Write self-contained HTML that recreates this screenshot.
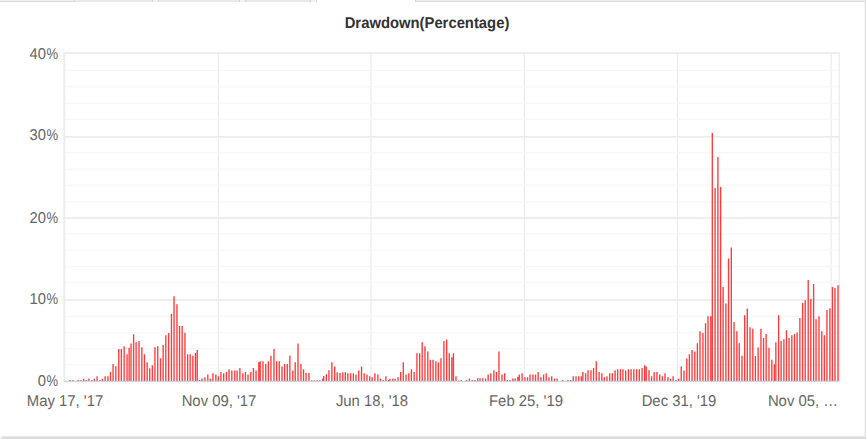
<!DOCTYPE html>
<html><head><meta charset="utf-8"><title>Drawdown</title>
<style>
html,body{margin:0;padding:0;background:#fff;}
body{width:866px;height:439px;position:relative;overflow:hidden;font-family:"Liberation Sans",sans-serif;}
.t{position:absolute;white-space:nowrap;line-height:1;text-rendering:geometricPrecision;}
.yl{font-size:15.6px;color:#666;text-align:right;width:60px;left:-2.4px;transform:scaleX(0.946);transform-origin:100% 50%;}
.xl{font-size:15.6px;color:#666;text-align:center;width:120px;transform:scaleX(0.953);transform-origin:50% 50%;}
.title{font-size:15.6px;font-weight:bold;color:#333;text-align:center;width:300px;left:276.9px;top:15.65px;transform:scaleX(0.95);transform-origin:50% 50%;}
.g{position:absolute;background:#e6e6e6;}
</style></head><body>
<div class="g" style="left:0px;top:0px;width:316px;height:2px;background:#e9e9e9;"></div>
<div class="g" style="left:0px;top:0px;width:74px;height:1px;background:#f0f0f0;"></div>
<div class="g" style="left:0px;top:1px;width:75px;height:1px;background:#d9d9d9;"></div>
<div class="g" style="left:152px;top:0px;width:7px;height:2px;background:#f2f2f2;"></div>
<div class="g" style="left:152px;top:0px;width:1px;height:2px;background:#d6d6d6;"></div>
<div class="g" style="left:158px;top:0px;width:1px;height:2px;background:#d6d6d6;"></div>
<div class="g" style="left:239px;top:0px;width:7px;height:2px;background:#f2f2f2;"></div>
<div class="g" style="left:239px;top:0px;width:1px;height:2px;background:#d6d6d6;"></div>
<div class="g" style="left:245px;top:0px;width:1px;height:2px;background:#d6d6d6;"></div>
<div class="g" style="left:310px;top:0px;width:7px;height:2px;background:#f2f2f2;"></div>
<div class="g" style="left:310px;top:0px;width:1px;height:2px;background:#d6d6d6;"></div>
<div class="g" style="left:316px;top:0px;width:1px;height:2px;background:#d6d6d6;"></div>
<div class="g" style="left:74px;top:0px;width:1px;height:2px;background:#d6d6d6;"></div>
<div class="g" style="left:415px;top:0px;width:451px;height:1px;background:#ececec;"></div>
<div class="g" style="left:415px;top:1px;width:451px;height:1px;background:#dddddd;"></div>
<div class="g" style="left:415px;top:0px;width:1px;height:2px;background:#d4d4d4;"></div>
<div class="g" style="left:865px;top:0px;width:1px;height:439px;background:#e0e0e0;"></div>
<div class="g" style="left:864px;top:2px;width:1px;height:434px;background:#f6f6f6;"></div>
<div class="g" style="left:0px;top:436px;width:866px;height:1px;background:#e8e8e8;border-top-left-radius:2px"></div>
<div class="g" style="left:0px;top:437px;width:866px;height:2px;background:#dcdcdc;"></div>
<div class="g" style="left:0px;top:436px;width:2px;height:3px;background:#f0f0f0;"></div>
<svg width="866" height="439" viewBox="0 0 866 439" style="position:absolute;left:0;top:0">
<rect x="217.65" y="53" width="1.3" height="328" fill="#ededed"/>
<rect x="370.35" y="53" width="1.3" height="328" fill="#ededed"/>
<rect x="523.65" y="53" width="1.3" height="328" fill="#ededed"/>
<rect x="676.75" y="53" width="1.3" height="328" fill="#ededed"/>
<rect x="830.45" y="53" width="1.3" height="328" fill="#ededed"/>
<rect x="64.3" y="69.80" width="775.0" height="1.2" fill="#f7f7f7"/>
<rect x="64.3" y="86.20" width="775.0" height="1.2" fill="#f7f7f7"/>
<rect x="64.3" y="102.60" width="775.0" height="1.2" fill="#f7f7f7"/>
<rect x="64.3" y="118.60" width="775.0" height="1.2" fill="#f7f7f7"/>
<rect x="64.3" y="152.20" width="775.0" height="1.2" fill="#f7f7f7"/>
<rect x="64.3" y="168.60" width="775.0" height="1.2" fill="#f7f7f7"/>
<rect x="64.3" y="184.60" width="775.0" height="1.2" fill="#f7f7f7"/>
<rect x="64.3" y="201.40" width="775.0" height="1.2" fill="#f7f7f7"/>
<rect x="64.3" y="233.10" width="775.0" height="1.2" fill="#f7f7f7"/>
<rect x="64.3" y="249.60" width="775.0" height="1.2" fill="#f7f7f7"/>
<rect x="64.3" y="266.00" width="775.0" height="1.2" fill="#f7f7f7"/>
<rect x="64.3" y="281.70" width="775.0" height="1.2" fill="#f7f7f7"/>
<rect x="64.3" y="315.60" width="775.0" height="1.2" fill="#f7f7f7"/>
<rect x="64.3" y="332.00" width="775.0" height="1.2" fill="#f7f7f7"/>
<rect x="64.3" y="348.10" width="775.0" height="1.2" fill="#f7f7f7"/>
<rect x="64.3" y="364.20" width="775.0" height="1.2" fill="#f7f7f7"/>
<rect x="64.3" y="52.20" width="775.0" height="1.8" fill="#ededed"/>
<rect x="64.3" y="135.95" width="775.0" height="1.8" fill="#ededed"/>
<rect x="64.3" y="217.10" width="775.0" height="1.8" fill="#ededed"/>
<rect x="64.3" y="299.00" width="775.0" height="1.8" fill="#ededed"/>
<rect x="63.30" y="52.2" width="2.0" height="329.5" fill="#ededed"/>
<rect x="838.60" y="52.2" width="1.4" height="329.5" fill="#ededed"/>
<path d="M69.18 380.10h1.35V381.5h-1.35zM72.23 380.10h1.35V381.5h-1.35zM77.49 380.10h1.35V381.5h-1.35zM80.26 380.10h1.35V381.5h-1.35zM83.03 378.72h1.35V381.5h-1.35zM85.53 380.10h1.35V381.5h-1.35zM88.30 378.44h1.35V381.5h-1.35zM91.07 380.10h1.35V381.5h-1.35zM93.66 378.72h1.35V381.5h-1.35zM96.43 376.22h1.35V381.5h-1.35zM99.20 380.10h1.35V381.5h-1.35zM101.79 378.72h1.35V381.5h-1.35zM104.47 376.22h1.35V381.5h-1.35zM107.24 376.22h1.35V381.5h-1.35zM109.82 372.07h1.35V381.5h-1.35zM112.41 363.94h1.35V381.5h-1.35zM115.18 366.25h1.35V381.5h-1.35zM118.08 349.11h1.35V381.5h-1.35zM120.68 349.11h1.35V381.5h-1.35zM123.48 346.31h1.35V381.5h-1.35zM126.39 354.31h1.35V381.5h-1.35zM128.47 347.66h1.35V381.5h-1.35zM130.34 343.50h1.35V381.5h-1.35zM132.94 334.35h1.35V381.5h-1.35zM135.44 342.15h1.35V381.5h-1.35zM138.35 341.11h1.35V381.5h-1.35zM141.15 347.34h1.35V381.5h-1.35zM143.75 354.31h1.35V381.5h-1.35zM146.45 362.21h1.35V381.5h-1.35zM149.05 368.13h1.35V381.5h-1.35zM151.65 365.32h1.35V381.5h-1.35zM154.25 347.34h1.35V381.5h-1.35zM157.05 346.31h1.35V381.5h-1.35zM159.86 358.26h1.35V381.5h-1.35zM162.46 344.95h1.35V381.5h-1.35zM165.16 335.18h1.35V381.5h-1.35zM167.97 333.11h1.35V381.5h-1.35zM170.77 314.11h1.35V381.5h-1.35zM173.37 296.24h1.35V381.5h-1.35zM176.28 304.34h1.35V381.5h-1.35zM178.88 326.04h1.35V381.5h-1.35zM181.48 326.04h1.35V381.5h-1.35zM184.28 332.79h1.35V381.5h-1.35zM186.98 354.31h1.35V381.5h-1.35zM189.48 354.31h1.35V381.5h-1.35zM192.18 355.66h1.35V381.5h-1.35zM194.78 353.06h1.35V381.5h-1.35zM196.55 349.94h1.35V381.5h-1.35zM199.02 380.10h1.35V381.5h-1.35zM201.33 378.44h1.35V381.5h-1.35zM204.29 377.15h1.35V381.5h-1.35zM207.15 374.38h1.35V381.5h-1.35zM209.64 378.72h1.35V381.5h-1.35zM212.23 373.18h1.35V381.5h-1.35zM215.19 374.38h1.35V381.5h-1.35zM217.77 376.22h1.35V381.5h-1.35zM220.27 371.97h1.35V381.5h-1.35zM223.04 373.18h1.35V381.5h-1.35zM225.81 371.97h1.35V381.5h-1.35zM228.40 369.20h1.35V381.5h-1.35zM231.17 370.40h1.35V381.5h-1.35zM234.12 370.40h1.35V381.5h-1.35zM236.43 370.40h1.35V381.5h-1.35zM239.20 368.09h1.35V381.5h-1.35zM242.16 373.18h1.35V381.5h-1.35zM244.75 371.97h1.35V381.5h-1.35zM247.33 374.38h1.35V381.5h-1.35zM250.11 371.97h1.35V381.5h-1.35zM252.78 368.09h1.35V381.5h-1.35zM255.37 370.40h1.35V381.5h-1.35zM258.14 362.09h1.35V381.5h-1.35zM259.53 361.17h1.35V381.5h-1.35zM262.30 361.17h1.35V381.5h-1.35zM265.07 363.94h1.35V381.5h-1.35zM267.66 361.17h1.35V381.5h-1.35zM270.25 355.79h1.35V381.5h-1.35zM273.30 349.04h1.35V381.5h-1.35zM275.98 361.33h1.35V381.5h-1.35zM278.56 361.33h1.35V381.5h-1.35zM281.33 366.41h1.35V381.5h-1.35zM283.92 364.10h1.35V381.5h-1.35zM286.60 364.10h1.35V381.5h-1.35zM289.19 355.51h1.35V381.5h-1.35zM292.14 370.57h1.35V381.5h-1.35zM294.54 362.25h1.35V381.5h-1.35zM297.32 343.50h1.35V381.5h-1.35zM300.27 364.10h1.35V381.5h-1.35zM302.86 369.18h1.35V381.5h-1.35zM305.35 373.06h1.35V381.5h-1.35zM308.31 373.06h1.35V381.5h-1.35zM311.03 380.24h1.35V381.5h-1.35zM313.57 380.24h1.35V381.5h-1.35zM316.34 380.24h1.35V381.5h-1.35zM319.11 380.24h1.35V381.5h-1.35zM321.88 378.86h1.35V381.5h-1.35zM323.04 376.09h1.35V381.5h-1.35zM325.68 374.26h1.35V381.5h-1.35zM328.26 370.29h1.35V381.5h-1.35zM331.22 362.25h1.35V381.5h-1.35zM333.99 366.41h1.35V381.5h-1.35zM336.58 372.14h1.35V381.5h-1.35zM339.35 373.06h1.35V381.5h-1.35zM342.12 372.14h1.35V381.5h-1.35zM344.61 372.14h1.35V381.5h-1.35zM347.17 373.18h1.35V381.5h-1.35zM349.94 373.18h1.35V381.5h-1.35zM352.72 373.18h1.35V381.5h-1.35zM355.30 374.56h1.35V381.5h-1.35zM358.07 370.40h1.35V381.5h-1.35zM360.84 366.43h1.35V381.5h-1.35zM363.52 373.18h1.35V381.5h-1.35zM366.29 374.56h1.35V381.5h-1.35zM369.07 376.22h1.35V381.5h-1.35zM371.47 377.33h1.35V381.5h-1.35zM374.24 373.18h1.35V381.5h-1.35zM377.20 374.56h1.35V381.5h-1.35zM379.78 378.72h1.35V381.5h-1.35zM382.46 380.10h1.35V381.5h-1.35zM385.23 376.22h1.35V381.5h-1.35zM387.82 379.92h1.35V381.5h-1.35zM389.20 378.72h1.35V381.5h-1.35zM392.16 378.44h1.35V381.5h-1.35zM394.47 378.72h1.35V381.5h-1.35zM397.33 377.15h1.35V381.5h-1.35zM400.01 371.97h1.35V381.5h-1.35zM402.60 362.37h1.35V381.5h-1.35zM405.37 374.56h1.35V381.5h-1.35zM408.14 373.18h1.35V381.5h-1.35zM410.73 369.20h1.35V381.5h-1.35zM413.50 371.97h1.35V381.5h-1.35zM416.25 353.20h1.35V381.5h-1.35zM419.02 353.20h1.35V381.5h-1.35zM421.52 342.21h1.35V381.5h-1.35zM424.29 346.27h1.35V381.5h-1.35zM427.15 351.44h1.35V381.5h-1.35zM429.65 359.76h1.35V381.5h-1.35zM432.42 359.76h1.35V381.5h-1.35zM435.19 361.33h1.35V381.5h-1.35zM437.69 362.53h1.35V381.5h-1.35zM440.27 358.28h1.35V381.5h-1.35zM443.23 341.00h1.35V381.5h-1.35zM446.00 339.43h1.35V381.5h-1.35zM448.59 353.20h1.35V381.5h-1.35zM451.17 357.17h1.35V381.5h-1.35zM452.74 353.20h1.35V381.5h-1.35zM455.33 376.22h1.35V381.5h-1.35zM458.10 380.57h1.35V381.5h-1.35zM460.60 380.10h1.35V381.5h-1.35zM465.95 380.10h1.35V381.5h-1.35zM468.72 378.44h1.35V381.5h-1.35zM471.50 380.10h1.35V381.5h-1.35zM474.27 380.10h1.35V381.5h-1.35zM477.04 378.26h1.35V381.5h-1.35zM479.35 378.26h1.35V381.5h-1.35zM482.12 378.26h1.35V381.5h-1.35zM484.89 378.44h1.35V381.5h-1.35zM487.48 374.38h1.35V381.5h-1.35zM490.16 373.18h1.35V381.5h-1.35zM493.20 370.13h1.35V381.5h-1.35zM495.79 371.97h1.35V381.5h-1.35zM498.29 351.47h1.35V381.5h-1.35zM501.33 374.38h1.35V381.5h-1.35zM504.01 373.18h1.35V381.5h-1.35zM506.60 380.10h1.35V381.5h-1.35zM509.37 380.10h1.35V381.5h-1.35zM512.14 378.44h1.35V381.5h-1.35zM514.45 378.44h1.35V381.5h-1.35zM517.22 376.87h1.35V381.5h-1.35zM518.61 374.38h1.35V381.5h-1.35zM521.38 373.18h1.35V381.5h-1.35zM524.25 377.15h1.35V381.5h-1.35zM526.84 377.33h1.35V381.5h-1.35zM529.33 374.38h1.35V381.5h-1.35zM532.29 374.38h1.35V381.5h-1.35zM534.87 374.56h1.35V381.5h-1.35zM537.46 371.97h1.35V381.5h-1.35zM540.23 377.15h1.35V381.5h-1.35zM542.91 374.56h1.35V381.5h-1.35zM545.50 373.18h1.35V381.5h-1.35zM548.27 377.15h1.35V381.5h-1.35zM551.04 376.22h1.35V381.5h-1.35zM553.81 378.44h1.35V381.5h-1.35zM556.40 378.44h1.35V381.5h-1.35zM561.94 380.10h1.35V381.5h-1.35zM567.20 380.10h1.35V381.5h-1.35zM569.98 380.10h1.35V381.5h-1.35zM572.56 376.22h1.35V381.5h-1.35zM575.33 376.22h1.35V381.5h-1.35zM578.11 376.22h1.35V381.5h-1.35zM580.60 376.22h1.35V381.5h-1.35zM582.17 371.97h1.35V381.5h-1.35zM584.94 373.18h1.35V381.5h-1.35zM587.34 370.13h1.35V381.5h-1.35zM590.30 370.13h1.35V381.5h-1.35zM592.89 368.09h1.35V381.5h-1.35zM595.57 361.17h1.35V381.5h-1.35zM598.43 371.97h1.35V381.5h-1.35zM601.20 373.18h1.35V381.5h-1.35zM603.61 377.15h1.35V381.5h-1.35zM606.29 376.22h1.35V381.5h-1.35zM609.06 373.18h1.35V381.5h-1.35zM611.64 373.18h1.35V381.5h-1.35zM614.42 370.13h1.35V381.5h-1.35zM617.00 369.20h1.35V381.5h-1.35zM619.77 369.20h1.35V381.5h-1.35zM622.27 369.20h1.35V381.5h-1.35zM625.04 370.40h1.35V381.5h-1.35zM627.81 369.20h1.35V381.5h-1.35zM630.40 369.20h1.35V381.5h-1.35zM633.17 369.20h1.35V381.5h-1.35zM635.94 369.20h1.35V381.5h-1.35zM638.62 369.20h1.35V381.5h-1.35zM641.39 368.09h1.35V381.5h-1.35zM643.98 365.14h1.35V381.5h-1.35zM645.55 366.43h1.35V381.5h-1.35zM648.32 370.13h1.35V381.5h-1.35zM650.90 376.22h1.35V381.5h-1.35zM653.49 371.97h1.35V381.5h-1.35zM656.26 371.97h1.35V381.5h-1.35zM659.03 374.38h1.35V381.5h-1.35zM661.71 376.22h1.35V381.5h-1.35zM664.30 373.18h1.35V381.5h-1.35zM667.26 377.15h1.35V381.5h-1.35zM669.84 378.72h1.35V381.5h-1.35zM672.43 376.22h1.35V381.5h-1.35zM675.20 380.10h1.35V381.5h-1.35zM677.98 378.72h1.35V381.5h-1.35zM680.56 366.43h1.35V381.5h-1.35zM683.33 370.40h1.35V381.5h-1.35zM686.11 358.39h1.35V381.5h-1.35zM688.69 354.24h1.35V381.5h-1.35zM691.37 350.08h1.35V381.5h-1.35zM694.14 351.47h1.35V381.5h-1.35zM696.72 343.34h1.35V381.5h-1.35zM699.30 331.33h1.35V381.5h-1.35zM702.26 332.90h1.35V381.5h-1.35zM704.84 323.29h1.35V381.5h-1.35zM707.34 316.27h1.35V381.5h-1.35zM710.11 316.27h1.35V381.5h-1.35zM711.62 133.00h1.35V381.5h-1.35zM714.43 188.00h1.35V381.5h-1.35zM717.23 156.90h1.35V381.5h-1.35zM719.93 186.90h1.35V381.5h-1.35zM722.43 287.00h1.35V381.5h-1.35zM725.23 303.40h1.35V381.5h-1.35zM727.88 258.40h1.35V381.5h-1.35zM730.62 247.60h1.35V381.5h-1.35zM733.39 322.09h1.35V381.5h-1.35zM736.16 331.33h1.35V381.5h-1.35zM738.56 343.34h1.35V381.5h-1.35zM741.33 355.70h1.35V381.5h-1.35zM744.01 315.16h1.35V381.5h-1.35zM746.60 308.51h1.35V381.5h-1.35zM749.37 327.17h1.35V381.5h-1.35zM752.14 328.83h1.35V381.5h-1.35zM754.72 355.89h1.35V381.5h-1.35zM757.50 347.39h1.35V381.5h-1.35zM760.27 328.83h1.35V381.5h-1.35zM762.90 338.07h1.35V381.5h-1.35zM765.48 334.10h1.35V381.5h-1.35zM768.30 347.85h1.35V381.5h-1.35zM771.17 359.86h1.35V381.5h-1.35zM773.66 364.20h1.35V381.5h-1.35zM775.18 342.14h1.35V381.5h-1.35zM777.95 315.16h1.35V381.5h-1.35zM780.45 341.03h1.35V381.5h-1.35zM783.22 339.36h1.35V381.5h-1.35zM785.81 330.13h1.35V381.5h-1.35zM788.39 338.07h1.35V381.5h-1.35zM791.16 335.30h1.35V381.5h-1.35zM793.84 334.10h1.35V381.5h-1.35zM796.43 332.53h1.35V381.5h-1.35zM799.20 318.12h1.35V381.5h-1.35zM801.93 303.10h1.35V381.5h-1.35zM804.53 300.30h1.35V381.5h-1.35zM807.53 280.00h1.35V381.5h-1.35zM810.12 299.10h1.35V381.5h-1.35zM812.93 284.00h1.35V381.5h-1.35zM815.37 319.32h1.35V381.5h-1.35zM818.32 316.27h1.35V381.5h-1.35zM821.09 331.33h1.35V381.5h-1.35zM823.68 335.30h1.35V381.5h-1.35zM826.27 310.08h1.35V381.5h-1.35zM829.22 308.23h1.35V381.5h-1.35zM831.73 286.90h1.35V381.5h-1.35zM834.33 288.00h1.35V381.5h-1.35zM837.33 285.30h1.35V381.5h-1.35z" fill="#ff3a3a"/>
<rect x="63.8" y="380.85" width="775.30" height="1.25" fill="#ccd6eb"/>
</svg>
<div class="t title">Drawdown(Percentage)</div>
<div class="t yl" style="top:47.0px;left:-14.1px">40</div>
<div class="t yl" style="top:47.0px;transform:scaleX(0.835)">%</div>
<div class="t yl" style="top:128.0px;left:-14.1px">30</div>
<div class="t yl" style="top:128.0px;transform:scaleX(0.835)">%</div>
<div class="t yl" style="top:211.0px;left:-14.1px">20</div>
<div class="t yl" style="top:211.0px;transform:scaleX(0.835)">%</div>
<div class="t yl" style="top:292.0px;left:-14.1px">10</div>
<div class="t yl" style="top:292.0px;transform:scaleX(0.835)">%</div>
<div class="t yl" style="top:374.0px;left:-14.1px">0</div>
<div class="t yl" style="top:374.0px;transform:scaleX(0.835)">%</div>
<div class="t xl" style="left:5.2px;top:394px">May 17, '17</div>
<div class="t xl" style="left:158.8px;top:394px">Nov 09, '17</div>
<div class="t xl" style="left:312.1px;top:394px">Jun 18, '18</div>
<div class="t xl" style="left:465.5px;top:394px">Feb 25, '19</div>
<div class="t xl" style="left:618.6px;top:394px">Dec 31, '19</div>
<div class="t xl" style="left:742.6px;top:394px">Nov 05, …</div>
</body></html>
